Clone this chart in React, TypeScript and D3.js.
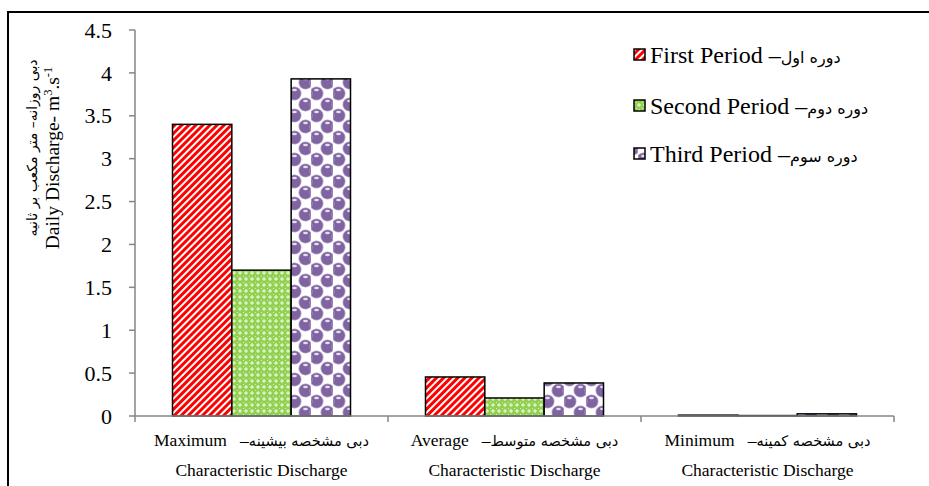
import React from "react";
import * as d3 from "d3";

// values (m3/s)
const categories = ["Maximum", "Average", "Minimum"];
const categoryFa = ["دبی مشخصه بیشینه", "دبی مشخصه متوسط", "دبی مشخصه کمینه"];
const seriesKeys = ["first", "second", "third"];
const seriesEn = ["First Period", "Second Period", "Third Period"];
const seriesFa = ["دوره اول", "دوره دوم", "دوره سوم"];
const firstPeriod = [3.4, 0.455, 0.01];
const secondPeriod = [1.7, 0.21, 0.005];
const thirdPeriod = [3.93, 0.385, 0.025];
const yTicks = [0, 0.5, 1, 1.5, 2, 2.5, 3, 3.5, 4, 4.5];

const W = 929;
const H = 486;
const serif = "Liberation Serif, Times New Roman, DejaVu Serif, serif";
const faFont = "DejaVu Sans, sans-serif";

const App: React.FC = () => {
    const values = [firstPeriod, secondPeriod, thirdPeriod];

    const x = d3.scaleBand<string>().domain(categories).range([135, 894]).padding(0);
    const bw = x.bandwidth();
    const x1 = d3
        .scaleBand<string>()
        .domain(seriesKeys)
        .range([(bw - 178) / 2, (bw + 178) / 2])
        .padding(0);
    const y = d3.scaleLinear().domain([0, 4.5]).range([416, 30]);

    const fills = ["url(#pRed)", "url(#pGreen)", "url(#pPurple)"];

    return (
        <svg
            width={W}
            height={H}
            style={{position: "absolute", left: 0, top: 0, background: "#fff", fontFamily: serif}}
        >
            <defs>
                <pattern id="pRed" width={5} height={5} patternUnits="userSpaceOnUse"
                         patternTransform="rotate(45)">
                    <rect width={5} height={5} fill="#fff"/>
                    <rect width={3} height={5} fill="#ff0000"/>
                </pattern>
                <pattern id="pGreen" width={6} height={6} patternUnits="userSpaceOnUse">
                    <rect width={6} height={6} fill="#92d050"/>
                    <rect x={2.5} y={1} width={1} height={4} fill="#fff" opacity={0.85}/>
                    <rect x={1} y={2.5} width={4} height={1} fill="#fff" opacity={0.85}/>
                    <rect x={0} y={0} width={1} height={1} fill="#d4edbb"/>
                </pattern>
                <pattern id="pPurple" width={22} height={22} patternUnits="userSpaceOnUse">
                    <rect width={22} height={22} fill="#fff"/>
                    {[[5.5, 5.5], [16.5, 16.5], [27.5, 16.5], [-5.5, 5.5], [5.5, 27.5], [16.5, -5.5]].map(([cx, cy], i) => (
                        <g key={i}>
                            <circle cx={cx} cy={cy} r={7} fill="#b3a2c7"/>
                            <circle cx={cx} cy={cy} r={6.2} fill="#8064a2"/>
                            <ellipse cx={cx} cy={cy - 3.5} rx={2.4} ry={1.2} fill="#e6def0"/>
                        </g>
                    ))}
                </pattern>
            </defs>

            {/* frame */}
            <rect x={8} y={12} width={W + 20} height={H + 20} fill="none" stroke="#000" strokeWidth={2}/>

            {/* bars */}
            {categories.map((c, ci) => (
                <g key={c} transform={`translate(${x(c)},0)`}>
                    {seriesKeys.map((k, si) => {
                        const v = values[si][ci];
                        return (
                            <rect
                                key={k}
                                x={x1(k)}
                                y={y(v)}
                                width={x1.bandwidth()}
                                height={y(0) - y(v)}
                                fill={fills[si]}
                                stroke="#000"
                                strokeWidth={1.5}
                            />
                        );
                    })}
                </g>
            ))}

            {/* y axis */}
            <line x1={135} x2={135} y1={y(4.5)} y2={y(0)} stroke="#868686" strokeWidth={1.5}/>
            {yTicks.map((t) => (
                <g key={t}>
                    <line x1={129} x2={135} y1={y(t)} y2={y(t)} stroke="#868686" strokeWidth={1.5}/>
                    <text x={112} y={y(t)} dy="0.35em" textAnchor="end" fontSize={22}>{t}</text>
                </g>
            ))}

            {/* x axis */}
            <line x1={135} x2={894} y1={y(0)} y2={y(0)} stroke="#868686" strokeWidth={1.5}/>
            {[...categories.map((c) => x(c) as number), 894].map((t, i) => (
                <line key={i} x1={t} x2={t} y1={y(0)} y2={y(0) + 6} stroke="#868686" strokeWidth={1.5}/>
            ))}
            {categories.map((c, i) => {
                const cx = (x(c) as number) + bw / 2;
                return (
                    <g key={c}>
                        <text x={cx} y={446} textAnchor="middle" fontSize={17.5}>
                            {c + "\u00a0\u00a0\u00a0–"}
                            <tspan fontFamily={faFont} fontSize={14.5}>{categoryFa[i]}</tspan>
                        </text>
                        <text x={cx} y={476} textAnchor="middle" fontSize={17.5}>
                            Characteristic Discharge
                        </text>
                    </g>
                );
            })}

            {/* y title */}
            <text transform="translate(37,148) rotate(-90)" textAnchor="middle" fontFamily={faFont}
                  fontSize={14}>دبی روزانه– متر مکعب بر ثانیه</text>
            <text transform="translate(59,158) rotate(-90)" textAnchor="middle" fontSize={19.5}>
                Daily Discharge- m<tspan dy={-7} fontSize={12.5}>3</tspan>
                <tspan dy={7}>.s</tspan>
                <tspan dy={-7} fontSize={12.5}>-1</tspan>
            </text>

            {/* legend */}
            {seriesEn.map((s, i) => {
                const ly = [55, 106, 154][i];
                return (
                    <g key={s}>
                        <rect x={634} y={ly - 6} width={11} height={11} fill={fills[i]} stroke="#000"
                              strokeWidth={1.5}/>
                        <text x={650} y={ly} dy="0.35em" fontSize={24}>
                            {s + " –"}
                            <tspan fontFamily={faFont} fontSize={16}>{seriesFa[i]}</tspan>
                        </text>
                    </g>
                );
            })}
        </svg>
    );
};

export default App;
